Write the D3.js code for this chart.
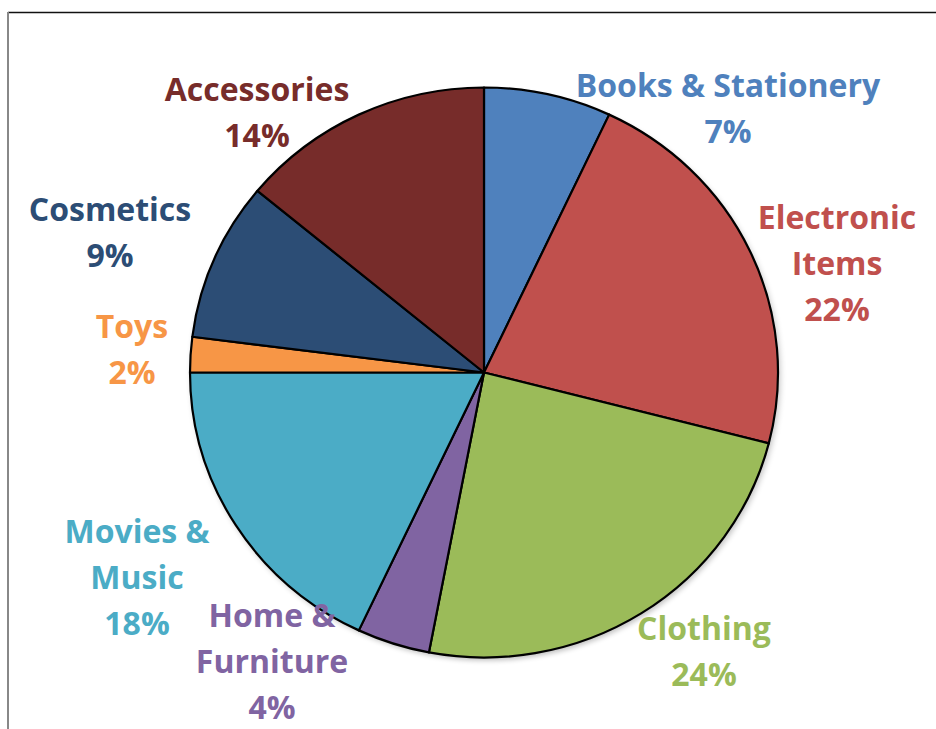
<!DOCTYPE html>
<html>
<head>
<meta charset="utf-8">
<script src="https://cdn.jsdelivr.net/npm/d3@7"></script>
<style>
  html, body { margin: 0; padding: 0; background: #fff; }
  svg { display: block; }
  .lbl { font-family: "Open Sans", sans-serif; font-weight: 700; font-size: 32px; }
</style>
</head>
<body>
<script>
// slice data, clockwise from 12 o'clock
const categories = ["Books & Stationery", "Electronic Items", "Clothing", "Home & Furniture",
                    "Movies & Music", "Toys", "Cosmetics", "Accessories"];
const shares = [7, 22, 24, 4, 18, 2, 9, 14];
const colors = ["#4f81bd", "#c0504d", "#9bbb59", "#8064a2", "#4bacc6", "#f79646", "#2c4d75", "#772c2a"];
// how each label breaks into lines
const labelLines = [
  ["Books & Stationery"],
  ["Electronic", "Items"],
  ["Clothing"],
  ["Home &", "Furniture"],
  ["Movies &", "Music"],
  ["Toys"],
  ["Cosmetics"],
  ["Accessories"]
];

const width = 936, height = 729;
const cx = 484, cy = 372.5, rx = 294, ry = 285;
const lineH = 46;

const svg = d3.select("body").append("svg")
    .attr("width", width)
    .attr("height", height);

// frame (top + left edge visible)
svg.append("line").attr("x1", 8).attr("x2", width).attr("y1", 12.5).attr("y2", 12.5)
    .attr("stroke", "#111").attr("stroke-width", 1.6);
svg.append("line").attr("x1", 8).attr("x2", 8).attr("y1", 12).attr("y2", height)
    .attr("stroke", "#888").attr("stroke-width", 2);

const defs = svg.append("defs");
const shadow = defs.append("filter").attr("id", "shadow")
    .attr("x", "-10%").attr("y", "-10%").attr("width", "120%").attr("height", "120%");
shadow.append("feGaussianBlur").attr("in", "SourceAlpha").attr("stdDeviation", 3);
shadow.append("feOffset").attr("dx", 2).attr("dy", 3).attr("result", "off");
shadow.append("feComponentTransfer").append("feFuncA").attr("type", "linear").attr("slope", 0.25);
const merge = shadow.append("feMerge");
merge.append("feMergeNode");
merge.append("feMergeNode").attr("in", "SourceGraphic");

const pie = d3.pie().sort(null).value(d => d)(shares);
const arc = d3.arc().innerRadius(0).outerRadius(rx);

// slightly squashed vertically, like the original
const g = svg.append("g")
    .attr("transform", `translate(${cx},${cy}) scale(1,${ry / rx})`);

g.append("ellipse").attr("rx", rx).attr("ry", rx).attr("fill", "#fff")
    .attr("filter", "url(#shadow)");

g.selectAll("path.slice")
  .data(pie)
  .join("path")
    .attr("class", "slice")
    .attr("d", arc)
    .attr("fill", (d, i) => colors[i])
    .attr("stroke", "#000")
    .attr("stroke-width", 2.2)
    .attr("vector-effect", "non-scaling-stroke")
    .attr("stroke-linejoin", "round");

// label anchor points (centre x, first baseline)
const labelPos = [
  [728, 97],
  [837, 229],
  [704, 640],
  [272, 627],
  [137, 543],
  [132, 338],
  [110, 221],
  [257, 101]
];

categories.forEach((c, i) => {
  const lines = labelLines[i].concat([shares[i] + "%"]);
  const t = svg.append("text")
      .attr("class", "lbl")
      .attr("text-anchor", "middle")
      .attr("fill", colors[i]);
  lines.forEach((s, j) => {
    t.append("tspan")
        .attr("x", labelPos[i][0])
        .attr("y", labelPos[i][1] + j * lineH)
        .text(s);
  });
});
</script>
</body>
</html>
